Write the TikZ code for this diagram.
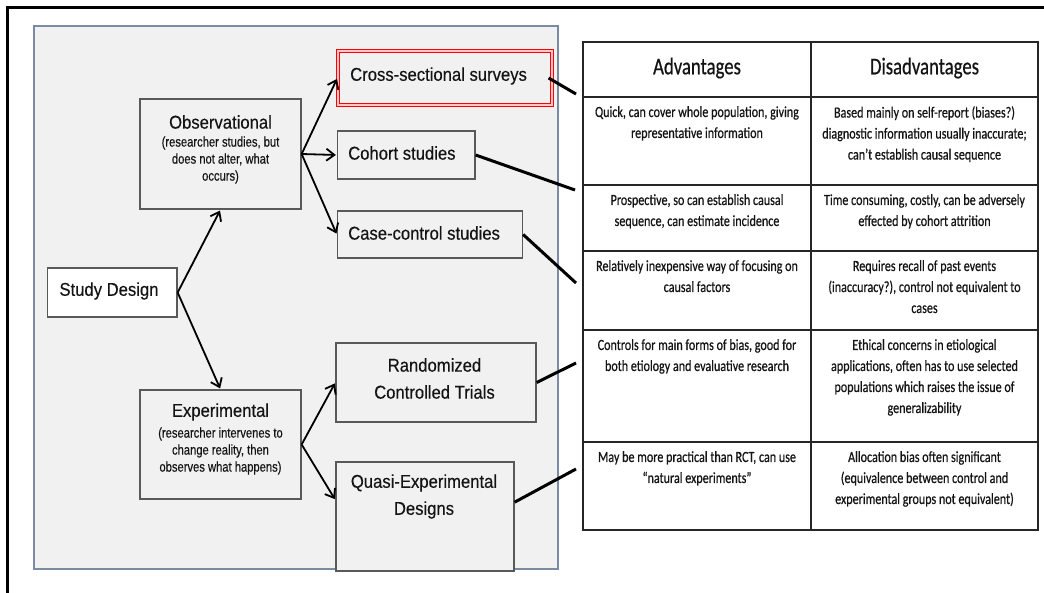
\documentclass[tikz,border=0pt]{standalone}
\usepackage{fontspec}
\setmainfont{Liberation Sans}
\newfontfamily\diagfont[FakeStretch=0.9,FakeBold=0.3]{Liberation Sans}
\newfontfamily\notefont[FakeStretch=0.8,FakeBold=0.3]{Liberation Sans}
\newfontfamily\tabfont[FakeStretch=0.78,FakeBold=0.6]{Carlito}
\usetikzlibrary{arrows.meta,calc}

\definecolor{panelfill}{HTML}{F1F1F1}
\definecolor{panelline}{HTML}{7A8BA3}
\definecolor{boxline}{HTML}{595959}
\definecolor{ink}{HTML}{141414}

\begin{document}
\begin{tikzpicture}[x=1pt,y=-1pt,
  box/.style={draw=boxline, line width=1.3pt, fill=panelfill, inner sep=0pt, rectangle},
  lbl/.style={font=\diagfont\fontsize{18.5}{27}\selectfont, align=center, inner sep=0pt, text=ink},
  note/.style={font=\notefont\fontsize{14}{17}\selectfont, align=center, inner sep=0pt, text=ink},
  arr/.style={-{Straight Barb[length=8pt,width=12pt,line width=1.8pt]}, line width=1.8pt, black, shorten >=1pt},
  link/.style={line width=3pt, black},
  cell/.style={font=\tabfont\fontsize{15.5}{21}\selectfont, align=center, inner sep=0pt, anchor=north, text=ink},
  head/.style={font=\tabfont\fontsize{24}{28}\selectfont, inner sep=0pt, text=ink},
  grid/.style={line width=2pt, draw=black!85}
]
\useasboundingbox (0,0) rectangle (1044,592);

% outer frame (left and top edges)
\draw[line width=3pt] (7,600) -- (7,7) -- (1050,7);

% grey panel holding the design tree
\draw[fill=panelfill, draw=panelline, line width=1.2pt] (34,26) rectangle (558,569);

% ---- design tree ----
\node[box, fill=white, minimum width=129.5pt, minimum height=49pt] (sd) at (112.25,292.5) {};
\node[lbl] (sdT) at (109,291) {Study Design};

\node[box, minimum width=161pt, minimum height=110pt] (obs) at (220.5,154) {};
\node[lbl] (obsT) at (220.5,122) {Observational};
\node[note] (obsN) at (220.5,160) {(researcher studies, but\\does not alter, what\\occurs)};

\node[box, minimum width=161pt, minimum height=109pt] (exp) at (220.5,444.5) {};
\node[lbl] (expT) at (220.5,412) {Experimental};
\node[note] (expN) at (220.5,451) {(researcher intervenes to\\change reality, then\\observes what happens)};

\node[box, draw=red, double=red!22, double distance=2.4pt, line width=1.2pt,
      minimum width=214pt, minimum height=54pt] (cross) at (445,78) {};
\node[lbl, anchor=west] (crossT) at (350,76) {Cross-sectional surveys};

\node[box, minimum width=137.5pt, minimum height=48pt] (cohort) at (406.25,155) {};
\node[lbl, anchor=west] (cohortT) at (348,153) {Cohort studies};

\node[box, minimum width=185pt, minimum height=47pt] (case) at (430,234.5) {};
\node[lbl, anchor=west] (caseT) at (348,233) {Case-control studies};

\node[box, minimum width=200pt, minimum height=79pt] (rand) at (436,382.5) {};
\node[lbl] (randT) at (434.5,378.5) {Randomized\\Controlled Trials};

\node[box, minimum width=178pt, minimum height=109pt] (quasi) at (425,516.5) {};
\node[lbl] (quasiT) at (424,496.5) {Quasi-Experimental\\Designs};

\coordinate (quasiIn) at ($(quasi.north west)!0.35!(quasi.south west)$);
\coordinate (quasiOut) at ($(quasi.north east)!0.37!(quasi.south east)$);

\draw[arr] (sd.east) -- (obs.south);
\draw[arr] (sd.east) -- (exp.north);
\draw[arr] (obs.east) -- (cross.west);
\draw[arr] (obs.east) -- (cohort.west);
\draw[arr] (obs.east) -- (case.west);
\draw[arr] (exp.east) -- (rand.west);
\draw[arr] (exp.east) -- (quasiIn);

% ---- table of advantages / disadvantages ----
\coordinate (t1) at (576,94);
\coordinate (t2) at (575,190);
\coordinate (t3) at (576,283);
\coordinate (t4) at (576,363);
\coordinate (t5) at (576,469);

\draw[link] ([xshift=-4pt]cross.east) -- (t1);
\draw[link] (cohort.east) -- (t2);
\draw[link] (case.east) -- (t3);
\draw[link] (rand.east) -- (t4);
\draw[link] (quasiOut) -- (t5);

\draw[grid] (583,42) rectangle (1038,530);
\draw[grid] (811,42) -- (811,530);
\foreach \r in {97,185,251,330,442}
  \draw[grid] (583,\r) -- (1038,\r);

\node[head] (hA) at (697,68) {Advantages};
\node[head] (hD) at (924.5,68) {Disadvantages};

\node[cell] (a1) at (697,106) {Quick, can cover whole population, giving\\representative information};
\node[cell] (d1) at (924.5,106) {Based mainly on self-report (biases?)\\diagnostic information usually inaccurate;\\can’t establish causal sequence};

\node[cell] (a2) at (697,194) {Prospective, so can establish causal\\sequence, can estimate incidence};
\node[cell] (d2) at (924.5,194) {Time consuming, costly, can be adversely\\effected by cohort attrition};

\node[cell] (a3) at (697,260) {Relatively inexpensive way of focusing on\\causal factors};
\node[cell] (d3) at (924.5,260) {Requires recall of past events\\(inaccuracy?), control not equivalent to\\cases};

\node[cell] (a4) at (697,339) {Controls for main forms of bias, good for\\both etiology and evaluative research};
\node[cell] (d4) at (924.5,339) {Ethical concerns in etiological\\applications, often has to use selected\\populations which raises the issue of\\generalizability};

\node[cell] (a5) at (697,451) {May be more practical than RCT, can use\\“natural experiments”};
\node[cell] (d5) at (924.5,451) {Allocation bias often significant\\(equivalence between control and\\experimental groups not equivalent)};
\end{tikzpicture}
\end{document}
